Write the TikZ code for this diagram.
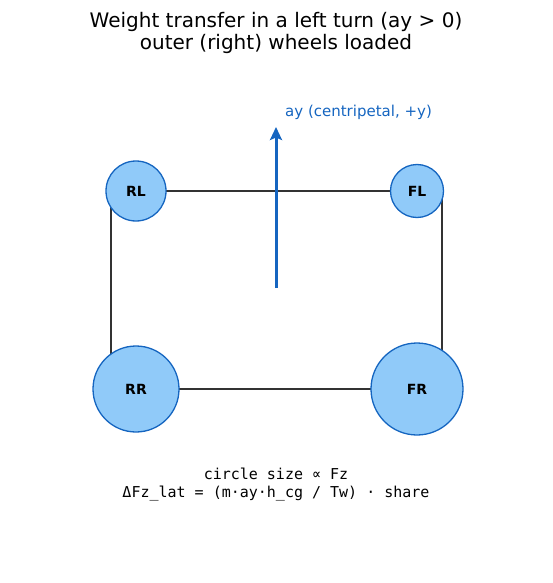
\documentclass[tikz,border=0pt]{standalone}
\usepackage{fontspec}
\setmainfont{DejaVu Sans}
\setmonofont{DejaVu Sans Mono}
\usepackage{tikz}
\usetikzlibrary{positioning,arrows.meta}
\definecolor{wheelfill}{HTML}{90CAF9}
\definecolor{wheeledge}{HTML}{1565C0}
\definecolor{framegray}{HTML}{333333}

\begin{document}
\begin{tikzpicture}[x=1pt, y=-1pt,
  wheel/.style={circle, draw=wheeledge, line width=1.3pt, fill=wheelfill, inner sep=0pt,
    font=\fontsize{14}{14}\selectfont\bfseries},
  txt/.style={inner sep=0pt, align=center}]
  \useasboundingbox (0,0) rectangle (552,583);
  % title
  \node[txt, font=\fontsize{20}{22}\selectfont] (title) at (276,33)
    {Weight transfer in a left turn (ay > 0)\\outer (right) wheels loaded};
  % chassis outline
  \coordinate (c1) at (111,191); \coordinate (c2) at (442,389);
  \draw[framegray, line width=2.3pt] (c1) rectangle (c2);
  % wheels, size ~ Fz
  \node[wheel, minimum size=60pt] (RL) at (136,191) {RL};
  \node[wheel, minimum size=53pt] (FL) at (417,191) {FL};
  \node[wheel, minimum size=86pt] (RR) at (136,389) {RR};
  \node[wheel, minimum size=92pt] (FR) at (417,389) {FR};
  % lateral acceleration
  \coordinate (a0) at (276,288); \coordinate (a1) at (276,127);
  \draw[wheeledge, line width=3pt, -{Stealth[length=13pt, width=12pt, inset=2.5pt]}] (a0) -- (a1);
  \node[txt, anchor=west, text=wheeledge, font=\fontsize{15}{15}\selectfont] (aylbl) at (285,112)
    {ay (centripetal, +y)};
  % legend
  \node[txt, font=\fontsize{15}{18}\selectfont\ttfamily] (legend) at (276,485)
    {circle size ∝ Fz\\ΔFz\_lat = (m·ay·h\_cg / Tw) · share};
\end{tikzpicture}
\end{document}
